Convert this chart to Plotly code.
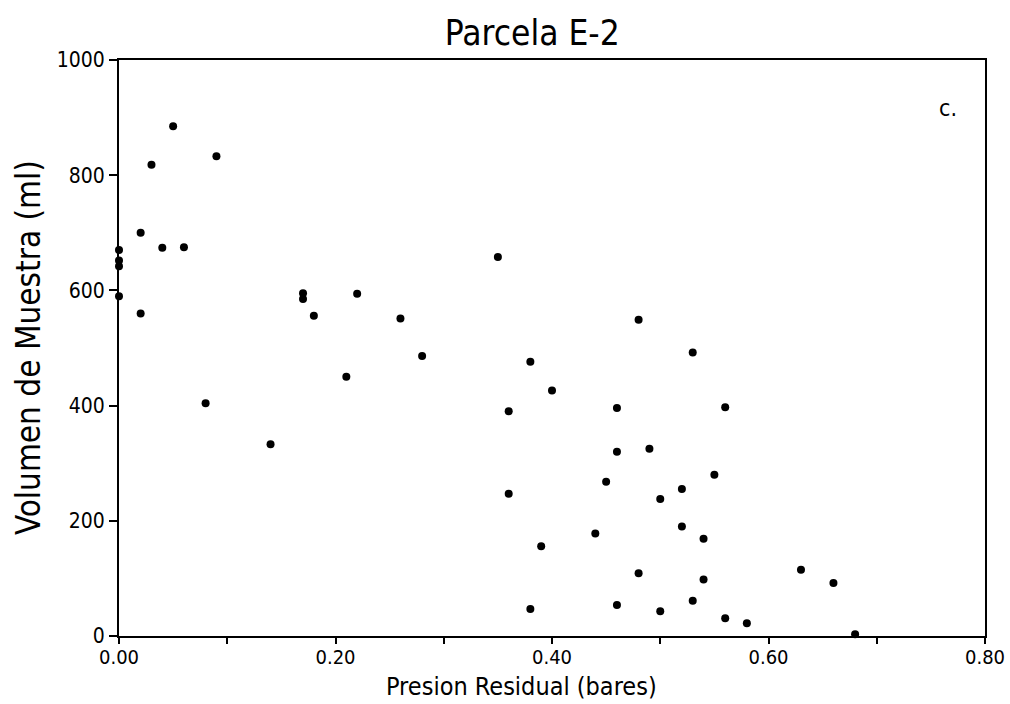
import plotly.graph_objects as go

# Residual pressure (bares) and sample volume (ml), plot E-2
presion = [
    0.00, 0.00, 0.00, 0.00,
    0.02, 0.02, 0.03, 0.04, 0.05, 0.06, 0.08, 0.09,
    0.14, 0.17, 0.17, 0.18, 0.21, 0.22, 0.26, 0.28,
    0.35, 0.36, 0.36, 0.38, 0.38, 0.39, 0.40,
    0.44, 0.45, 0.46, 0.46, 0.46, 0.48, 0.48, 0.49,
    0.50, 0.50, 0.52, 0.52, 0.53, 0.53, 0.54, 0.54,
    0.55, 0.56, 0.56, 0.58, 0.63, 0.66, 0.68,
]
volumen = [
    670, 652, 642, 590,
    700, 560, 818, 674, 885, 675, 404, 833,
    333, 595, 585, 556, 450, 594, 551, 486,
    658, 390, 247, 476, 47, 156, 426,
    178, 268, 396, 320, 54, 549, 109, 325,
    238, 43, 255, 190, 492, 61, 169, 98,
    280, 397, 31, 22, 115, 92, 3,
]

x_ticks = [0.0, 0.1, 0.2, 0.3, 0.4, 0.5, 0.6, 0.7, 0.8]
x_labels = ["0.00", "", "0.20", "", "0.40", "", "0.60", "", "0.80"]
y_ticks = [0, 200, 400, 600, 800, 1000]

FONT = "DejaVu Sans Condensed, DejaVu Sans, sans-serif"

fig = go.Figure(
    go.Scatter(
        x=presion,
        y=volumen,
        mode="markers",
        marker=dict(color="black", size=8, symbol="circle"),
        cliponaxis=False,
        showlegend=False,
    )
)

axis_common = dict(
    showline=True,
    linecolor="black",
    linewidth=2,
    mirror=True,
    showgrid=False,
    zeroline=False,
    ticks="outside",
    tickwidth=1.5,
    tickcolor="black",
    automargin=False,
    ticklabeloverflow="allow",
)

fig.update_xaxes(
    range=[0, 0.8],
    tickvals=x_ticks,
    ticktext=x_labels,
    ticklen=6,
    ticklabelstandoff=-4,
    tickfont=dict(family=FONT, size=20, color="black"),
    **axis_common,
)
fig.update_yaxes(
    range=[0, 1000],
    tickvals=y_ticks,
    ticklen=8,
    tickfont=dict(family=FONT, size=21, color="black"),
    **axis_common,
)

# Axis titles placed as paper-anchored text
fig.add_annotation(
    text="Presion Residual (bares)", xref="paper", yref="paper",
    x=0.465, y=-0.1165, xanchor="center", yanchor="bottom",
    showarrow=False, font=dict(family=FONT, size=25, color="black"),
)
fig.add_annotation(
    text="Volumen de Muestra (ml)", xref="paper", yref="paper",
    x=-0.105, y=0.50, xanchor="center", yanchor="middle", textangle=-90,
    showarrow=False, font=dict(family=FONT, size=33, color="black"),
)
fig.add_annotation(
    text="c.", xref="paper", yref="paper", x=0.97, y=0.943,
    showarrow=False, font=dict(family=FONT, size=23, color="black"),
)

fig.update_layout(
    width=1010,
    height=704,
    margin=dict(l=119, r=25, t=60, b=68),
    paper_bgcolor="white",
    plot_bgcolor="white",
    title=dict(text="Parcela E-2", x=0.527, xanchor="center", y=0.953, yanchor="middle",
               font=dict(family=FONT, size=35, color="black")),
)

fig.write_html("out.html")
